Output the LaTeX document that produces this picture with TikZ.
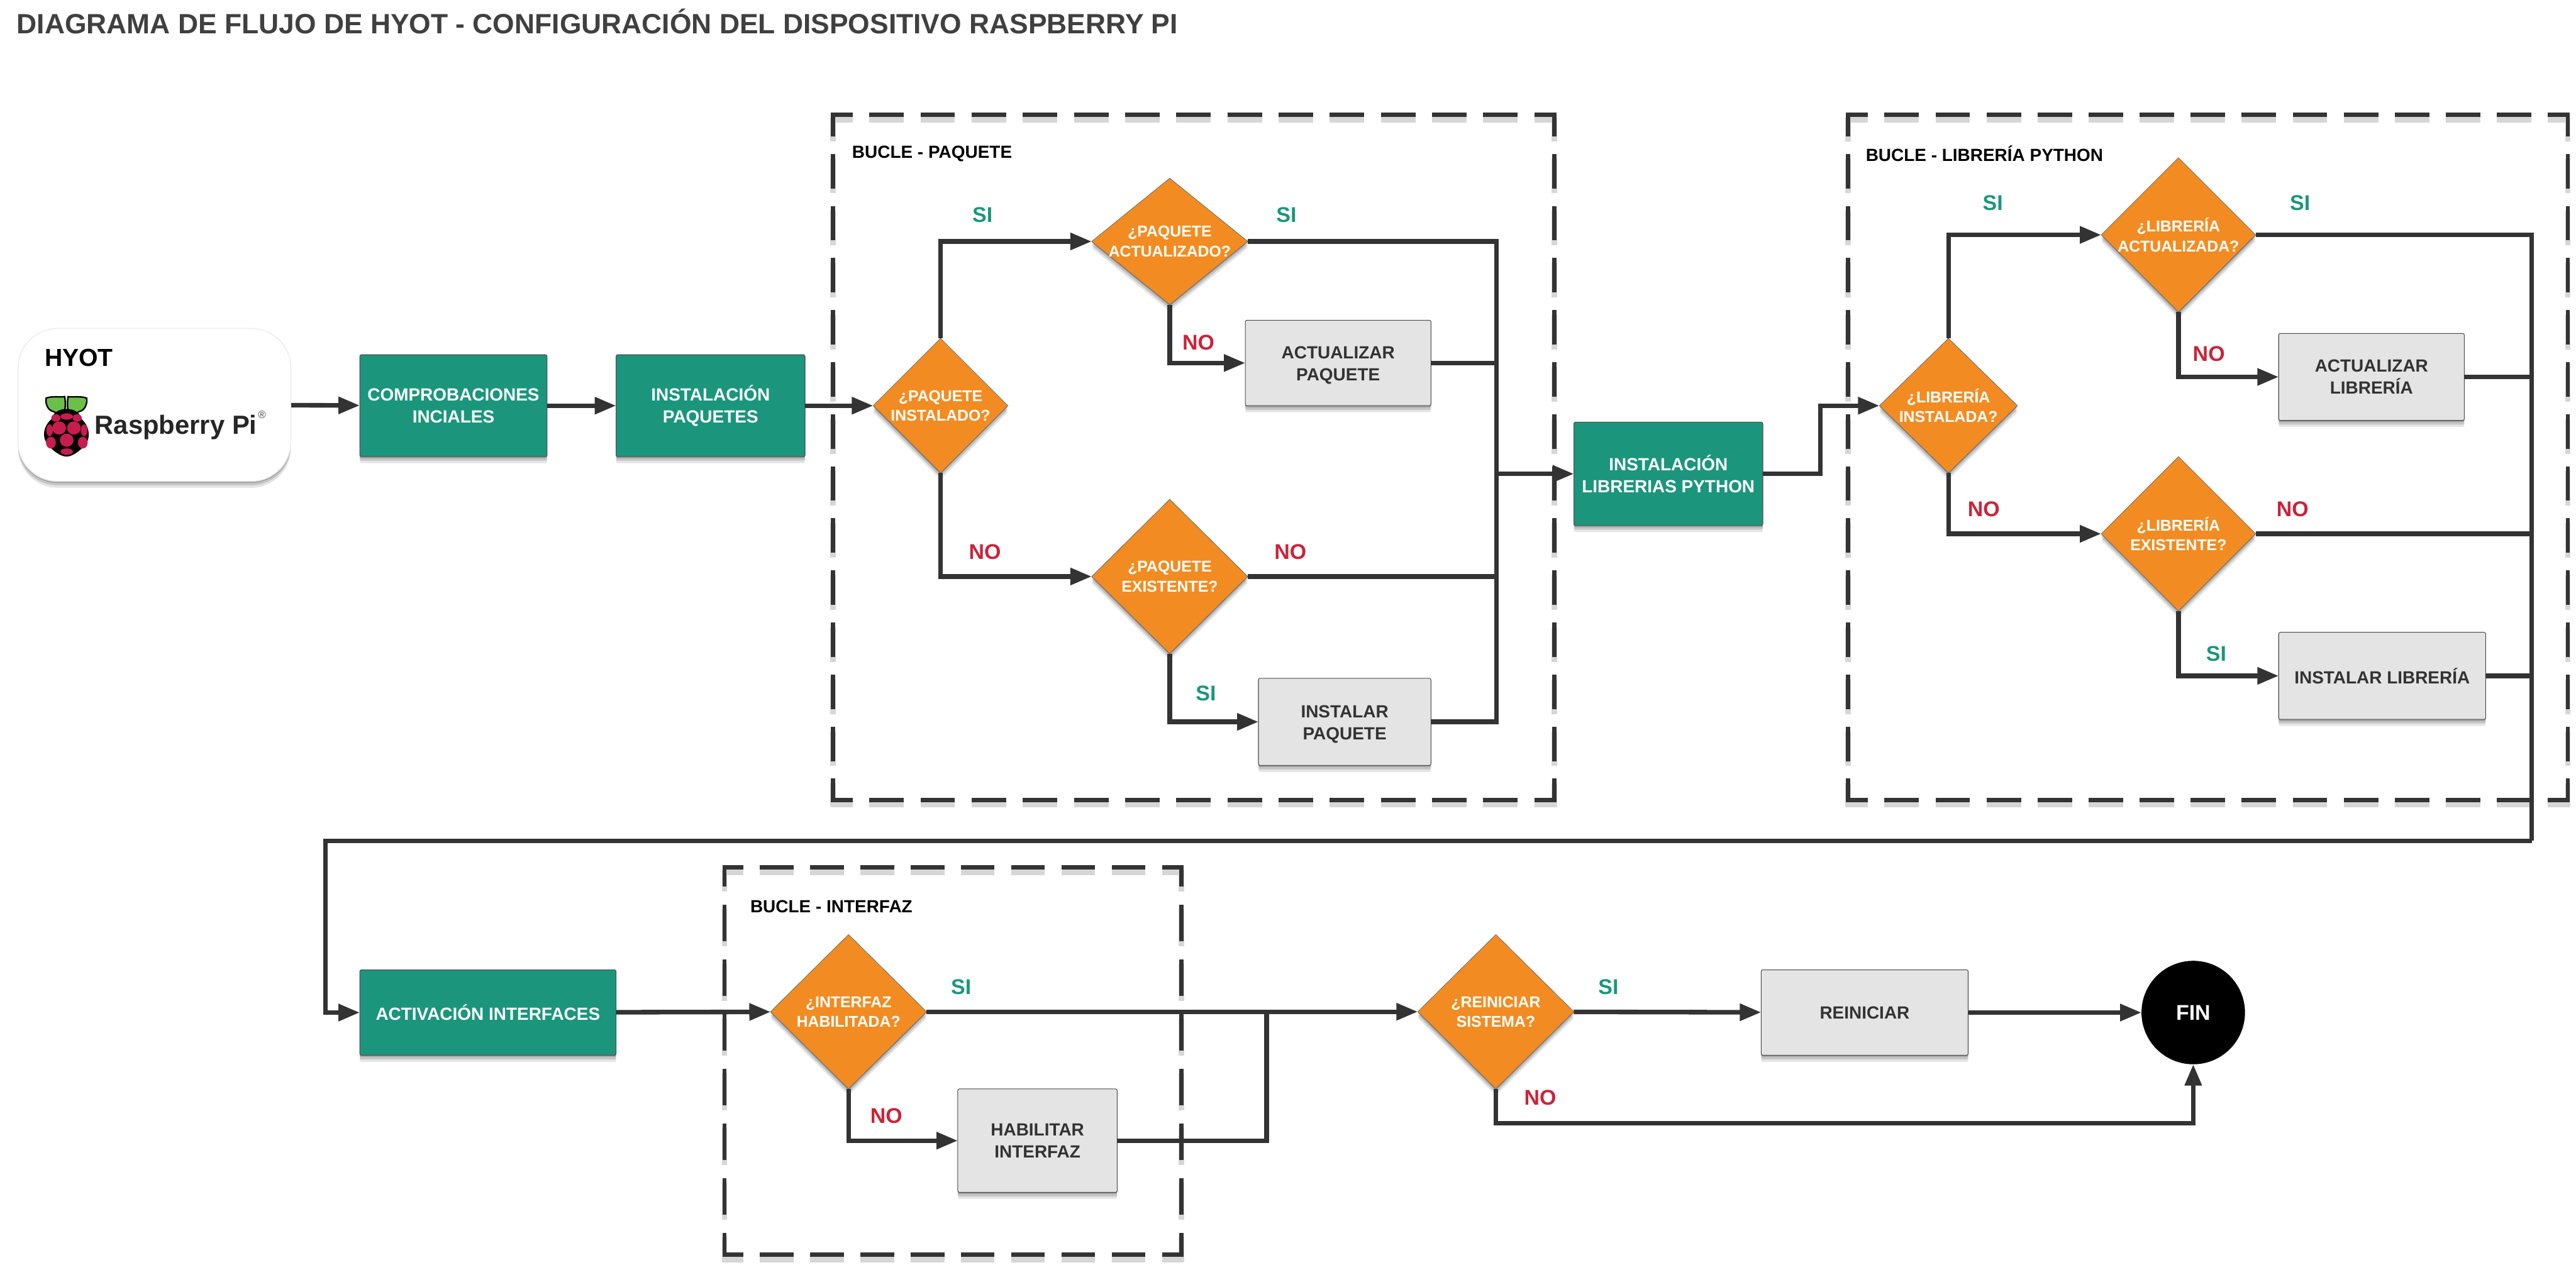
\documentclass[tikz,border=0pt]{standalone}
\usepackage{fontspec}
\setmainfont{Liberation Sans}
\usepackage{xcolor}
\usetikzlibrary{positioning}
\usetikzlibrary{arrows.meta}
\usetikzlibrary{shapes.geometric}
\usetikzlibrary{shadows}

\definecolor{verde}{HTML}{1B967D}
\definecolor{naranja}{HTML}{F28C22}
\definecolor{gris}{HTML}{E4E4E4}
\definecolor{oscuro}{HTML}{333333}
\definecolor{rojo}{HTML}{C9243A}
\definecolor{hoja}{HTML}{6CC04A}
\definecolor{fruta}{HTML}{C51D4E}
\newcommand{\alto}{\rule{0pt}{10.5pt}}

\begin{document}
\begin{tikzpicture}[
                x=1pt, y=-1pt,
                soft shadow/.style = {
                    general shadow={fill=black, opacity=.10, shadow yshift=-4pt},
                    general shadow={fill=black, opacity=.14, shadow yshift=-2.5pt},
                    general shadow={fill=black, opacity=.18, shadow yshift=-1pt}},
                main box/.style = {rectangle, rounded corners=1pt, draw=black!70, line width=.4pt, fill=verde, text=white, soft shadow, inner sep=0pt, outer sep=0pt, align=center, font=\bfseries\fontsize{10.7}{13.5}\selectfont},
                task box/.style = {main box, fill=gris, text=oscuro},
                decision/.style = {diamond, draw=black!60, line width=.3pt, fill=naranja, text=white, soft shadow, inner sep=-9pt, outer sep=0pt, align=center, font=\bfseries\fontsize{9.5}{12}\selectfont},
                loop frame/.style = {rectangle, inner sep=0pt, outer sep=0pt},
                loop shade/.style = {draw=black!16, line width=3.4pt, transform canvas={yshift=-3pt}},
                loop side/.style = {draw=oscuro, line width=2.6pt},
                loop label/.style = {anchor=west, inner sep=0pt, text=black, font=\bfseries\fontsize{10.7}{12}\selectfont},
                line/.style = {draw=oscuro, line width=2.8pt},
                arrow/.style = {line, -{Triangle[length=13pt,width=10pt]}},
                si label/.style = {inner sep=0pt, text=verde, font=\bfseries\fontsize{13}{14}\selectfont},
                no label/.style = {inner sep=0pt, text=rojo, font=\bfseries\fontsize{13}{14}\selectfont}
                ]
    \useasboundingbox (0,0) rectangle (1568,770);

    % --- Titulo ---
    \node[anchor=west, inner sep=0pt, text=black!75, font=\bfseries\fontsize{17}{18}\selectfont] (titulo) at (10,13) {DIAGRAMA DE FLUJO DE HYOT - CONFIGURACIÓN DEL DISPOSITIVO RASPBERRY PI};

    % --- Bucles ---
    \node[loop frame, minimum width=439pt, minimum height=417pt] (buclepaquete) at (726.5,278.5) {};
    \node[loop frame, minimum width=438pt, minimum height=417pt] (buclelibreria) at (1344,278.5) {};
    \node[loop frame, minimum width=278pt, minimum height=236pt] (bucleinterfaz) at (580,646) {};
    \foreach \capa in {loop shade, loop side} {
        \foreach \marco/\dh/\gh/\ch/\dv/\gv/\cv in {buclepaquete/21/10.14/12/21/10.7/13, buclelibreria/21/10.06/12/21/10.7/13, bucleinterfaz/20.5/10.1/11.4/22.4/10.9/11.8} {
            \draw[\capa, dash pattern=on \dh pt off \gh pt, dash phase=\dh pt-\ch pt-1.3pt] ([xshift=-1.3pt]\marco.north west) -- ([xshift=1.3pt]\marco.north east);
            \draw[\capa, dash pattern=on \dh pt off \gh pt, dash phase=\dh pt-\ch pt-1.3pt] ([xshift=-1.3pt]\marco.south west) -- ([xshift=1.3pt]\marco.south east);
            \draw[\capa, dash pattern=on \dv pt off \gv pt, dash phase=\dv pt-\cv pt-1.3pt] ([yshift=1.3pt]\marco.north west) -- ([yshift=-1.3pt]\marco.south west);
            \draw[\capa, dash pattern=on \dv pt off \gv pt, dash phase=\dv pt-\cv pt-1.3pt] ([yshift=1.3pt]\marco.north east) -- ([yshift=-1.3pt]\marco.south east);
        }
    }
    \node[loop label] (tituloA) at (518.5,93.5) {BUCLE - PAQUETE};
    \node[loop label] (tituloB) at (1135.5,93.5) {BUCLE - LIBRERÍA PYTHON};
    \node[loop label] (tituloC) at (456.5,552) {BUCLE - INTERFAZ};

    % --- Nodos ---
    \node[rectangle, rounded corners=24pt, draw=black!7, line width=.6pt, fill=white, soft shadow, minimum width=166pt, minimum height=93pt, inner sep=0pt] (hyot) at (94,246.5) {};
    \node[anchor=west, inner sep=0pt, font=\bfseries\fontsize{15}{16}\selectfont] (hyottxt) at (27,218) {HYOT};
    \node[anchor=base west, inner sep=0pt, text=black!85, font=\bfseries\fontsize{16}{17}\selectfont] (raspitxt) at (57.5,264.3) {Raspberry Pi};
    \node[inner sep=0pt, text=black!70, font=\fontsize{6.5}{7}\selectfont] (raspireg) at (159.5,252.5) {®};

    \node[main box, minimum width=114pt, minimum height=62pt] (comprobaciones) at (276,247) {COMPROBACIONES\\INCIALES};
    \node[main box, minimum width=115pt, minimum height=62pt] (paquetes) at (432.5,247) {INSTALACIÓN\\PAQUETES};
    \node[main box, minimum width=115pt, minimum height=63pt] (librerias) at (1015.5,288.5) {INSTALACIÓN\\LIBRERIAS PYTHON};
    \node[main box, minimum width=156pt, minimum height=52pt] (interfaces) at (297,616.5) {ACTIVACIÓN INTERFACES};

    \node[decision, minimum width=82pt, minimum height=82pt] (pqinstalado) at (572.5,247) {¿PAQUETE\\INSTALADO?};
    \node[decision, minimum width=95pt, minimum height=77pt] (pqactualizado) at (712,147) {¿PAQUETE\\ACTUALIZADO?};
    \node[decision, minimum width=95pt, minimum height=94pt] (pqexistente) at (712,351) {¿PAQUETE\\EXISTENTE?};
    \node[task box, minimum width=113pt, minimum height=52pt] (actpaquete) at (814.5,221) {\alto ACTUALIZAR\\PAQUETE};
    \node[task box, minimum width=105pt, minimum height=53pt] (instpaquete) at (818.5,439.5) {\alto INSTALAR\\PAQUETE};

    \node[decision, minimum width=84pt, minimum height=82pt] (libinstalada) at (1186,247) {¿LIBRERÍA\\INSTALADA?};
    \node[decision, minimum width=94pt, minimum height=94pt] (libactualizada) at (1326,143) {¿LIBRERÍA\\ACTUALIZADA?};
    \node[decision, minimum width=94pt, minimum height=94pt] (libexistente) at (1326,325) {¿LIBRERÍA\\EXISTENTE?};
    \node[task box, minimum width=113pt, minimum height=53pt] (actlibreria) at (1443.5,229.5) {ACTUALIZAR\\LIBRERÍA};
    \node[task box, minimum width=126pt, minimum height=53pt] (instlibreria) at (1450,411.5) {INSTALAR LIBRERÍA};

    \node[decision, minimum width=95pt, minimum height=94pt] (ifhabilitada) at (516.5,616) {¿INTERFAZ\\HABILITADA?};
    \node[task box, minimum width=97pt, minimum height=63pt] (habilitar) at (631.5,694.5) {HABILITAR\\INTERFAZ};
    \node[decision, minimum width=95pt, minimum height=94pt] (reiniciar) at (910.5,616) {¿REINICIAR\\SISTEMA?};
    \node[task box, minimum width=126pt, minimum height=52pt] (reboot) at (1135,616.5) {REINICIAR};
    \node[circle, fill=black, text=white, inner sep=0pt, outer sep=0pt, minimum size=63pt, font=\bfseries\fontsize{13}{14}\selectfont] (fin) at (1335,616.5) {FIN};

    % --- Logo ---
    \foreach \sx in {1,-1} {
        \filldraw[scale=1, fill=hoja, draw=black, line width=.9pt, xshift=40.4pt, yshift=-247pt, xscale=\sx]
            (-1,-5.5) .. controls (-3,-5) and (-9,-6) .. (-12.3,-4.6) .. controls (-13,-1) and (-11,3) .. (-8,3.5) .. controls (-5,5) and (-3,5.5) .. (-1.5,5) .. controls (-.5,2) and (-.5,-2) .. cycle;
    }
    \fill[black] (40.4,249) .. controls (46,249) and (49,252) .. (49.5,255) .. controls (53,258) and (55,263) .. (53.5,268) .. controls (52,272) and (45,278) .. (40.5,278) .. controls (36,278) and (29,272) .. (27.5,268) .. controls (25.5,263) and (28,258) .. (31.5,255) .. controls (32,252) and (35,249) .. (40.4,249) -- cycle;
    \foreach \ex/\ey/\rx/\ry in {40.6/253.6/3.8/2, 34/254.5/2.8/2.3, 47/254.5/2.8/2.3, 36/260.6/4.2/4, 45/260.6/4.2/4, 30.2/262/2/3.6, 51.2/262/2/3.6, 40.6/268/4.2/4, 31/269.5/3/3.6, 50.4/269.5/3/3.6, 40.6/275/3.8/2} {
        \fill[fruta] (\ex,\ey) ellipse [x radius=\rx, y radius=\ry];
    }

    % --- Flechas ---
    \coordinate (pqunion) at (911,288.5);
    \coordinate (libcodo) at (1108,288.5);
    \coordinate (libunion) at (1541,512);
    \coordinate (retorno) at (198,512);
    \coordinate (ifunion) at (771,616.5);
    \coordinate (rescodo) at (910.5,684);

    \draw[arrow] (hyot) -- (comprobaciones);
    \draw[arrow] (comprobaciones) -- (paquetes);
    \draw[arrow] (paquetes) -- (pqinstalado);
    \draw[arrow] (pqinstalado.north) |- (pqactualizado.west);
    \draw[arrow] (pqinstalado.south) |- (pqexistente.west);
    \draw[arrow] (pqactualizado.south) |- (actpaquete.west);
    \draw[arrow] (pqexistente.south) |- (instpaquete.west);
    \draw[line] (pqactualizado.east) -| (pqunion);
    \draw[line] (instpaquete.east) -| (pqunion);
    \draw[line] (actpaquete.east) -- (actpaquete.east -| pqunion);
    \draw[line] (pqexistente.east) -- (pqexistente.east -| pqunion);
    \draw[arrow] (pqunion) -- (librerias.west);

    \draw[arrow] (librerias.east) -- (libcodo) |- (libinstalada.west);
    \draw[arrow] (libinstalada.north) |- (libactualizada.west);
    \draw[arrow] (libinstalada.south) |- (libexistente.west);
    \draw[arrow] (libactualizada.south) |- (actlibreria.west);
    \draw[arrow] (libexistente.south) |- (instlibreria.west);
    \draw[line] (libactualizada.east) -| (libunion);
    \draw[line] (actlibreria.east) -- (actlibreria.east -| libunion);
    \draw[line] (libexistente.east) -- (libexistente.east -| libunion);
    \draw[line] (instlibreria.east) -- (instlibreria.east -| libunion);
    \draw[arrow] (libunion) -- (retorno) |- (interfaces.west);

    \draw[arrow] (interfaces) -- (ifhabilitada);
    \draw[arrow] (ifhabilitada.south) |- (habilitar.west);
    \draw[arrow] (ifhabilitada) -- (reiniciar);
    \draw[line] (habilitar.east) -| (ifunion);
    \draw[arrow] (reiniciar) -- (reboot);
    \draw[arrow] (reboot) -- (fin);
    \draw[arrow] (reiniciar.south) -- (rescodo) -| (fin.south);

    % --- Etiquetas SI y NO ---
    \foreach \i/\x/\y in {1/598/131, 2/783/131, 3/734/422, 4/1213/123.5, 5/1400/123.5, 6/1349/398, 7/585/601, 8/979/601} {
        \node[si label] (si\i) at (\x,\y) {SI};
    }
    \foreach \i/\x/\y in {1/729.5/208.5, 2/599.5/336, 3/785.5/336, 4/1344.5/215.5, 5/1207.5/310, 6/1395.5/310, 7/539.5/679.5, 8/937.5/668.5} {
        \node[no label] (no\i) at (\x,\y) {NO};
    }
\end{tikzpicture}
\end{document}
